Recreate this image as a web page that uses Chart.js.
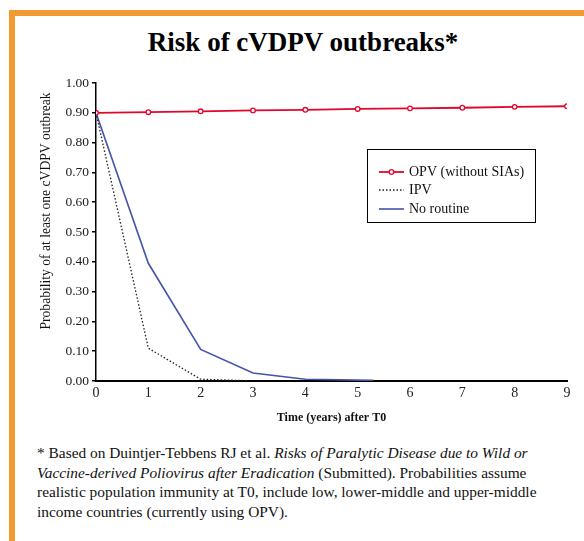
<!DOCTYPE html>
<html>
<head>
<meta charset="utf-8">
<script src="https://cdn.jsdelivr.net/npm/chart.js@4/dist/chart.umd.min.js"></script>
<style>
  html, body { margin:0; padding:0; background:#fff; width:584px; height:541px; overflow:hidden; }
  #frame { position:absolute; left:9px; top:10px; width:640px; height:600px;
           border-left:6px solid #F09A31; border-top:6px solid #F09A31; box-sizing:border-box; }
  #title { position:absolute; left:0; top:26px; width:606px; text-align:center;
           font-family:"Liberation Serif","DejaVu Serif",serif; font-weight:bold; font-size:27px; line-height:32px; color:#000; }
  #wrap { position:absolute; left:20px; top:60px; width:564px; height:380px; }
  #note { position:absolute; left:37px; top:443px; white-space:nowrap;
          font-family:"Liberation Serif","DejaVu Serif",serif; font-size:15.4px; line-height:19.6px; color:#111; }
</style>
</head>
<body>
<div id="frame"></div>
<div id="title">Risk of cVDPV outbreaks*</div>
<div id="wrap"><canvas id="c" width="564" height="380"></canvas></div>
<div id="note">* Based on Duintjer-Tebbens RJ et al. <i>Risks of Paralytic Disease due to Wild or</i><br><i>Vaccine-derived Poliovirus after Eradication</i> (Submitted). Probabilities assume<br>realistic population immunity at T0, include low, lower-middle and upper-middle<br>income countries (currently using OPV).</div>
<script>
const seriesNames = ["OPV (without SIAs)", "IPV", "No routine"];
const opvYears = [0, 1, 2, 3, 4, 5, 6, 7, 8, 9];
const opvRisk  = [0.900, 0.902, 0.905, 0.908, 0.910, 0.913, 0.915, 0.917, 0.920, 0.922];
const ipvYears = [0, 1, 2, 2.9];
const ipvRisk  = [0.900, 0.110, 0.006, 0.001];
const noRoutineYears = [0, 1, 2, 3, 4, 5.3];
const noRoutineRisk  = [0.900, 0.395, 0.106, 0.027, 0.006, 0.002];
const xTicks = [0, 1, 2, 3, 4, 5, 6, 7, 8, 9];
const yTicks = [0, 0.1, 0.2, 0.3, 0.4, 0.5, 0.6, 0.7, 0.8, 0.9, 1.0];
const yAxisTitle = "Probability of at least one cVDPV outbreak";
const xAxisTitle = "Time (years) after T0";

const pts = (xs, ys) => xs.map((x, i) => ({x, y: ys[i]}));
const serif = '"Liberation Serif","DejaVu Serif",serif';

const extras = {
  id: 'extras',
  afterDatasetsDraw(chart) {
    const ctx = chart.ctx;
    ctx.save();
    // y-axis title
    ctx.translate(26, 151);
    ctx.rotate(-Math.PI / 2);
    ctx.fillStyle = '#111';
    ctx.font = '13.6px ' + serif;
    ctx.textAlign = 'center';
    ctx.textBaseline = 'middle';
    ctx.fillText(yAxisTitle, 0, 0);
    ctx.restore();

    ctx.save();
    const bx = 347, by = 89, bw = 168, bh = 73;
    ctx.fillStyle = '#fff';
    ctx.fillRect(bx, by, bw, bh);
    ctx.strokeStyle = '#000';
    ctx.lineWidth = 1;
    ctx.strokeRect(bx + 0.5, by + 0.5, bw, bh);
    const rows = [112, 130, 149];
    chart.data.datasets.forEach((ds, i) => {
      const y = rows[i];
      ctx.beginPath();
      ctx.setLineDash(ds.borderDash || []);
      ctx.strokeStyle = ds.borderColor;
      ctx.lineWidth = ds.borderWidth;
      ctx.moveTo(359, y); ctx.lineTo(384, y);
      ctx.stroke();
      ctx.setLineDash([]);
      if (ds.pointRadius > 0) {
        ctx.beginPath();
        ctx.arc(371.5, y, ds.pointRadius, 0, Math.PI * 2);
        ctx.fillStyle = ds.pointBackgroundColor;
        ctx.fill();
        ctx.lineWidth = ds.pointBorderWidth;
        ctx.strokeStyle = ds.borderColor;
        ctx.stroke();
      }
      ctx.fillStyle = '#111';
      ctx.font = '14px ' + serif;
      ctx.textAlign = 'left';
      ctx.textBaseline = 'middle';
      ctx.fillText(ds.label, 389, y);
    });
    ctx.restore();
  }
};

new Chart(document.getElementById('c'), {
  type: 'scatter',
  data: {
    datasets: [
      { label: seriesNames[0], data: pts(opvYears, opvRisk), showLine: true,
        borderColor: '#E2062C', borderWidth: 1.8, pointRadius: 2.3, pointBorderWidth: 1.3,
        pointBackgroundColor: '#fff', pointBorderColor: '#E2062C', tension: 0 },
      { label: seriesNames[1], data: pts(ipvYears, ipvRisk), showLine: true,
        borderColor: '#222', borderWidth: 1.3, borderDash: [1.5, 2], pointRadius: 0, tension: 0 },
      { label: seriesNames[2], data: pts(noRoutineYears, noRoutineRisk), showLine: true,
        borderColor: '#4454A8', borderWidth: 1.6, pointRadius: 0, tension: 0 }
    ]
  },
  options: {
    responsive: false,
    animation: false,
    layout: { padding: { left: 0, right: 17, top: 23, bottom: 0 } },
    plugins: { legend: { display: false }, tooltip: { enabled: false } },
    scales: {
      x: {
        type: 'linear', min: 0, max: 9,
        afterBuildTicks: s => { s.ticks = xTicks.map(v => ({value: v})); },
        afterFit: s => { s.height = 59; },
        grid: { display: false, drawTicks: false },
        border: { display: true, color: '#000', width: 2 },
        ticks: { color: '#222', padding: 4, font: { family: serif, size: 14 }, callback: v => String(v) },
        title: { display: true, text: xAxisTitle, color: '#111',
                 font: { family: serif, size: 12, weight: 'bold' }, padding: { top: 4, bottom: 15 } }
      },
      y: {
        type: 'linear', min: 0, max: 1,
        afterBuildTicks: s => { s.ticks = yTicks.map(v => ({value: v})); },
        afterFit: s => { s.width = 76; },
        grid: { drawOnChartArea: false, drawTicks: true, tickLength: 4, color: '#000', lineWidth: 1.5 },
        border: { display: true, color: '#000', width: 1.5 },
        ticks: { color: '#222', padding: 3, font: { family: serif, size: 13.5 }, callback: v => v.toFixed(2) },
        title: { display: false }
      }
    }
  },
  plugins: [extras]
});
</script>
</body>
</html>
